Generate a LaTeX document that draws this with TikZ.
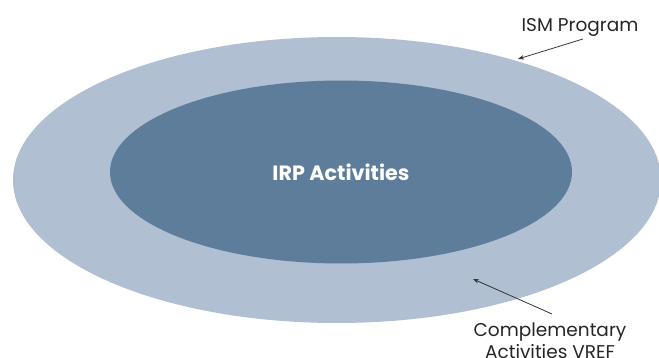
\documentclass[tikz,border=0pt]{standalone}
\usepackage{fontspec}
\setmainfont{Poppins}
\usepackage{xcolor}
\usepackage{tikz}
\usetikzlibrary{positioning,shapes.geometric,arrows.meta}
\definecolor{ismblue}{HTML}{B0BFD2}
\definecolor{irpblue}{HTML}{5D7D9A}
\definecolor{pointer}{HTML}{333333}
\begin{document}
\begin{tikzpicture}[x=1pt, y=-1pt, every node/.style={inner sep=0pt, outer sep=0pt}, ring/.style={ellipse, draw=none}, lbl/.style={align=center, font=\fontsize{18.5}{22}\selectfont, text=black!85}, pointerline/.style={draw=pointer, line width=0.8pt, -{Stealth[length=6pt,width=4.5pt]}}]
\clip (0,0) rectangle (659,358);
\useasboundingbox (0,0) rectangle (659,358);
\node (ism) [ring, fill=ismblue, minimum width=648pt, minimum height=286pt] at (337,180) {};
\node (irp) [ring, fill=irpblue, minimum width=462pt, minimum height=183pt, text=white, font=\fontsize{20.7}{24}\selectfont\bfseries] at (341,172) {IRP Activities};
\node (ismlbl) [lbl, anchor=base] at (580,32) {ISM Program};
\node (complbl) [lbl, anchor=north] at (550,323) {Complementary\\Activities VREF};
\coordinate (ismtip) at (518,59);
\coordinate (comptip) at (473,279);
\draw[pointerline] ([xshift=3pt, yshift=-2pt]ismlbl.south) -- (ismtip); \draw[pointerline] ([xshift=2pt, yshift=9pt]complbl.north) -- (comptip);
\end{tikzpicture}
\end{document}
